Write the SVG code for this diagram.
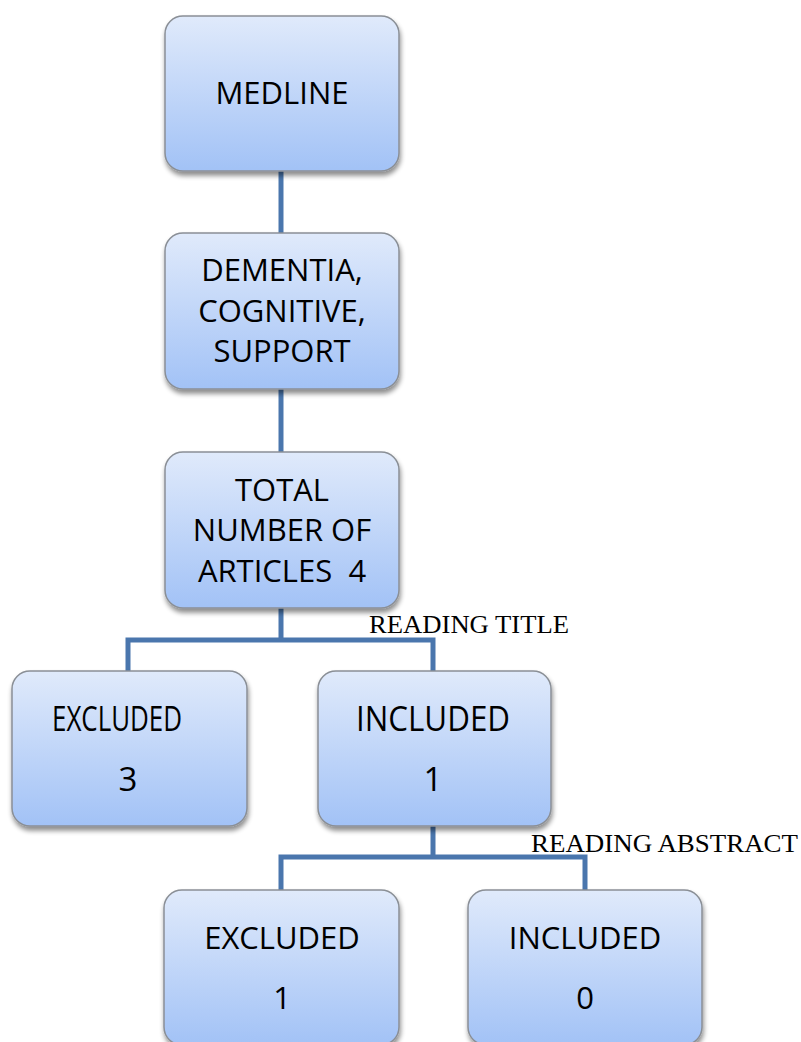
<svg xmlns="http://www.w3.org/2000/svg" width="801" height="1042" viewBox="0 0 801 1042">
<defs>
<linearGradient id="g" x1="0" y1="0" x2="0" y2="1">
<stop offset="0" stop-color="#e0eafb"/>
<stop offset="1" stop-color="#a2c2f6"/>
</linearGradient>
<filter id="sh" x="-10%" y="-10%" width="130%" height="130%">
<feGaussianBlur in="SourceAlpha" stdDeviation="2.5"/>
<feOffset dx="1" dy="4" result="b"/>
<feComponentTransfer><feFuncA type="linear" slope="0.45"/></feComponentTransfer>
<feMerge><feMergeNode/><feMergeNode in="SourceGraphic"/></feMerge>
</filter>
</defs>
<style>
.box{fill:url(#g);stroke:#8a8f96;stroke-width:1.5;filter:url(#sh)}
.t{font-family:"Open Sans","Liberation Sans",sans-serif;font-size:31px;fill:#000;text-anchor:middle}
.lbl{font-family:"Liberation Serif","Times New Roman",serif;font-size:25px;fill:#000}
.c{fill:none;stroke:#4a76ad;stroke-width:5}
</style>
<rect width="801" height="1042" fill="#fff"/>
<g id="connectors">
<path class="c" d="M281 170V234"/>
<path class="c" d="M281 388V453"/>
<path class="c" d="M281 607V640M128 672V640H433V672"/>
<path class="c" d="M433 825V857M281 891V857H585V891"/>
</g>
<g id="medline"><rect class="box" x="165" y="16" width="234" height="155" rx="18"/><text class="t" x="282" y="104">MEDLINE</text></g>
<g id="search"><rect class="box" x="165" y="233" width="234" height="156" rx="18"/><text class="t" x="282" y="281">DEMENTIA,</text><text class="t" x="282" y="322">COGNITIVE,</text><text class="t" x="282" y="362">SUPPORT</text></g>
<g id="total"><rect class="box" x="165" y="452" width="234" height="156" rx="18"/><text class="t" x="282" y="501">TOTAL</text><text class="t" x="282" y="541">NUMBER OF</text><text class="t" x="282" y="582" xml:space="preserve">ARTICLES  4</text></g>
<g id="excluded1"><rect class="box" x="12" y="671" width="235" height="155" rx="18"/><text class="t" x="117" y="731" style="font-size:34px" textLength="130" lengthAdjust="spacingAndGlyphs">EXCLUDED</text><text class="t" x="128" y="791" style="font-size:33px">3</text></g>
<g id="included1"><rect class="box" x="318" y="671" width="233" height="155" rx="18"/><text class="t" x="433" y="731" style="font-size:34px" textLength="154" lengthAdjust="spacingAndGlyphs">INCLUDED</text><text class="t" x="433" y="791" style="font-size:33px">1</text></g>
<g id="excluded2"><rect class="box" x="164" y="890" width="235" height="155" rx="18"/><text class="t" x="282" y="949">EXCLUDED</text><text class="t" x="282" y="1009">1</text></g>
<g id="included2"><rect class="box" x="468" y="890" width="234" height="155" rx="18"/><text class="t" x="585" y="949">INCLUDED</text><text class="t" x="585" y="1009">0</text></g>
<g id="labels">
<text class="lbl" x="369" y="633" textLength="200" lengthAdjust="spacingAndGlyphs">READING TITLE</text>
<text class="lbl" x="531" y="852" textLength="267" lengthAdjust="spacingAndGlyphs">READING ABSTRACT</text>
</g>
</svg>
